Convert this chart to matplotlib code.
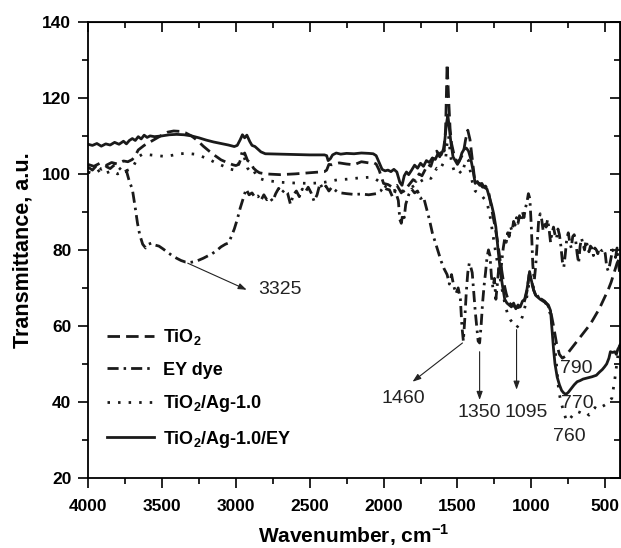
import matplotlib
matplotlib.use("Agg")
import matplotlib.pyplot as plt
from matplotlib.ticker import MultipleLocator

plt.rcParams['font.family'] = ['Liberation Sans', 'DejaVu Sans']
plt.rcParams['mathtext.fontset'] = 'custom'
plt.rcParams['mathtext.rm'] = 'Liberation Sans'
plt.rcParams['mathtext.bf'] = 'Liberation Sans:bold'

# ---------------- data ----------------
labels = [r'TiO$_\mathbf{2}$', 'EY dye', r'TiO$_\mathbf{2}$/Ag-1.0', r'TiO$_\mathbf{2}$/Ag-1.0/EY']

tio2_wn = [4000, 3960, 3920, 3880, 3840, 3800, 3760, 3730, 3700, 3680, 3660, 3620, 3580, 3540, 3500, 3460,
           3420, 3380, 3340, 3300, 3260, 3220, 3180, 3140, 3100, 3060, 3020, 3000, 2980, 2960, 2940, 2920,
           2900, 2880, 2860, 2840, 2800, 2700, 2600, 2500, 2400, 2385, 2370, 2350, 2300, 2250, 2200, 2150,
           2100, 2070, 2050, 2030, 2000, 1970, 1940, 1910, 1880, 1860, 1840, 1820, 1800, 1780, 1760, 1740,
           1720, 1700, 1680, 1660, 1640, 1620, 1600, 1590, 1580, 1570, 1560, 1550, 1540, 1520, 1500, 1480,
           1460, 1445, 1430, 1415, 1400, 1385, 1370, 1350, 1330, 1310, 1290, 1270, 1250, 1230, 1210, 1190,
           1170, 1150, 1130, 1110, 1090, 1070, 1050, 1030, 1015, 1000, 985, 970, 950, 930, 910, 890, 870,
           850, 830, 810, 790, 770, 750, 720, 690, 660, 630, 600, 570, 540, 510, 480, 460, 440, 420, 400]
tio2_t = [102.5, 102.0, 102.8, 102.2, 103.0, 102.6, 103.4, 103.2, 103.8, 104.8, 106.3, 107.5, 108.4, 109.3,
          110.2, 111.0, 111.3, 111.2, 110.8, 110.0, 108.8, 107.3, 106.0, 104.8, 103.7, 103.0, 102.4, 102.2,
          102.5, 104.5, 105.5, 103.5, 103.0, 101.5, 100.8, 100.3, 100.0, 99.8, 100.0, 100.3, 100.6, 101.0,
          102.5, 102.4, 102.9, 102.6, 102.4, 103.2, 102.9, 103.0, 102.6, 101.0, 97.5, 97.2, 96.5, 97.0, 95.0,
          96.2, 96.5, 97.5, 98.5, 98.0, 100.0, 99.5, 101.0, 102.5, 102.0, 104.5, 106.0, 104.5, 107.0, 106.0,
          112.0, 129.0, 120.0, 112.0, 108.0, 104.5, 103.0, 104.0, 105.5, 109.0, 111.5, 109.0, 104.0, 99.0,
          97.5, 97.5, 96.5, 96.8, 95.5, 91.0, 87.0, 82.5, 77.0, 72.0, 68.5, 66.0, 65.5, 65.0, 64.8, 65.2,
          66.0, 69.0, 73.5, 72.0, 69.5, 68.0, 67.5, 67.0, 66.5, 65.5, 64.0, 60.0, 55.5, 52.5, 51.5, 52.0,
          53.0, 54.5, 56.0, 57.5, 59.0, 60.5, 62.5, 64.5, 67.0, 69.5, 71.5, 74.0, 76.5, 78.0]

ey_wn = [4000, 3970, 3940, 3910, 3880, 3850, 3820, 3790, 3760, 3740, 3720, 3700, 3680, 3665, 3650, 3630,
         3610, 3590, 3570, 3550, 3520, 3490, 3460, 3430, 3400, 3370, 3340, 3310, 3280, 3250, 3220, 3190,
         3160, 3130, 3100, 3070, 3050, 3030, 3010, 2990, 2970, 2950, 2930, 2910, 2890, 2870, 2850, 2830,
         2810, 2790, 2770, 2750, 2730, 2710, 2690, 2670, 2650, 2630, 2610, 2590, 2570, 2550, 2530, 2510,
         2490, 2470, 2450, 2430, 2410, 2390, 2370, 2350, 2330, 2310, 2290, 2250, 2200, 2150, 2100, 2050,
         2020, 2000, 1980, 1960, 1940, 1920, 1900, 1890, 1880, 1870, 1860, 1850, 1830, 1810, 1790, 1770,
         1750, 1730, 1710, 1690, 1670, 1650, 1630, 1610, 1590, 1570, 1555, 1540, 1525, 1510, 1495, 1480,
         1470, 1460, 1450, 1440, 1430, 1420, 1410, 1400, 1390, 1380, 1370, 1360, 1350, 1340, 1330, 1320,
         1310, 1300, 1290, 1280, 1270, 1260, 1250, 1240, 1230, 1220, 1210, 1200, 1190, 1180, 1170, 1160,
         1150, 1140, 1130, 1120, 1110, 1100, 1090, 1080, 1070, 1060, 1050, 1040, 1030, 1020, 1010, 1000,
         990, 980, 970, 960, 950, 940, 930, 920, 910, 900, 890, 880, 870, 860, 850, 840, 830, 820, 810,
         800, 790, 780, 770, 760, 750, 740, 730, 720, 710, 700, 690, 680, 670, 660, 650, 640, 630, 620,
         610, 600, 590, 580, 570, 560, 550, 540, 530, 520, 510, 500, 490, 480, 470, 460, 450, 440, 430,
         420, 410, 400]
ey_t = [101.8, 101.0, 102.3, 101.2, 102.0, 101.4, 102.4, 101.6, 100.5, 100.8, 98.0, 96.0, 91.0, 87.0, 84.0,
        81.5, 80.5, 81.5, 81.8, 81.3, 81.0, 80.2, 79.3, 78.5, 77.8, 77.2, 76.8, 76.7, 76.9, 77.3, 77.8, 78.4,
        79.0, 79.8, 80.8, 81.5, 81.8, 83.5, 85.5, 88.0, 91.0, 93.5, 96.0, 94.5, 95.0, 93.8, 94.2, 93.0, 94.5,
        93.2, 93.8, 92.8, 94.8, 96.2, 95.0, 95.8, 95.0, 92.0, 94.5, 95.5, 94.0, 96.0, 95.2, 96.5, 95.0, 92.8,
        94.5, 97.5, 96.0, 96.8, 95.5, 96.5, 95.8, 95.2, 95.0, 94.8, 94.6, 94.7, 94.5, 94.8, 95.5, 96.5, 96.0,
        95.8, 94.0, 95.5, 93.0, 88.0, 87.0, 89.5, 88.5, 92.0, 94.5, 96.0, 95.0, 95.5, 93.5, 94.0, 91.0, 88.0,
        84.5, 82.0, 79.5, 77.0, 75.0, 73.5, 71.0, 73.5, 70.5, 68.5, 70.0, 67.0, 60.0, 56.0, 62.0, 69.0, 74.0,
        76.5, 75.5, 74.0, 69.0, 64.0, 60.0, 56.0, 55.5, 60.0, 66.0, 70.5, 74.0, 78.0, 80.0, 78.5, 73.0, 70.0,
        72.5, 67.0, 71.0, 75.5, 73.0, 77.0, 80.5, 83.0, 82.0, 84.5, 83.5, 86.0, 85.0, 87.5, 86.5, 88.5, 87.0,
        89.0, 87.5, 90.0, 88.5, 91.0, 92.5, 94.8, 93.5, 86.0, 76.0, 72.0, 76.0, 82.0, 88.0, 89.5, 88.0, 85.0,
        87.5, 86.0, 88.0, 85.5, 82.0, 84.5, 86.0, 84.0, 83.0, 85.5, 84.0, 81.0, 77.0, 75.5, 79.0, 83.0, 84.5,
        82.0, 80.5, 83.5, 84.0, 82.5, 79.0, 76.5, 81.0, 83.0, 81.5, 80.0, 82.5, 81.0, 79.5, 81.0, 80.5, 78.5,
        80.5, 80.0, 79.0, 80.5, 80.0, 79.8, 80.2, 79.0, 75.5, 74.5, 76.0, 78.0, 80.0, 79.0, 78.0, 80.5, 76.0,
        73.5]

ag_wn = [4000, 3960, 3920, 3880, 3840, 3800, 3760, 3730, 3700, 3680, 3660, 3630, 3580, 3530, 3480, 3430,
         3380, 3330, 3280, 3230, 3180, 3130, 3080, 3040, 3010, 2990, 2970, 2955, 2940, 2920, 2900, 2880,
         2860, 2840, 2800, 2700, 2600, 2500, 2450, 2400, 2350, 2300, 2250, 2200, 2150, 2100, 2060, 2030,
         2000, 1970, 1940, 1910, 1880, 1850, 1820, 1790, 1760, 1730, 1700, 1680, 1660, 1640, 1620, 1600,
         1580, 1570, 1560, 1550, 1540, 1520, 1505, 1490, 1470, 1455, 1440, 1425, 1410, 1395, 1380, 1360,
         1340, 1320, 1300, 1280, 1260, 1240, 1220, 1200, 1180, 1160, 1140, 1120, 1100, 1080, 1060, 1040,
         1020, 1010, 1000, 985, 970, 950, 930, 910, 890, 870, 850, 830, 815, 800, 785, 770, 760, 745, 730,
         710, 690, 670, 650, 630, 610, 590, 570, 550, 530, 510, 490, 470, 455, 445, 435, 425, 415, 405, 400]
ag_t = [100.5, 100.0, 101.0, 100.2, 100.8, 100.0, 100.6, 101.0, 101.5, 103.0, 104.5, 105.2, 105.0, 104.8,
        104.6, 104.9, 105.3, 105.4, 105.2, 104.6, 103.8, 102.8, 102.0, 101.3, 101.0, 101.5, 104.0, 106.0,
        104.0, 101.5, 100.5, 101.0, 99.5, 98.8, 98.3, 97.8, 97.6, 97.5, 97.6, 97.8, 98.2, 98.5, 98.6, 98.8,
        99.0, 99.1, 98.8, 98.0, 97.0, 96.3, 95.5, 95.8, 95.0, 95.8, 96.2, 97.0, 97.8, 98.5, 99.2, 98.8,
        100.0, 101.5, 101.0, 102.5, 104.0, 108.0, 110.0, 106.0, 103.0, 100.5, 100.3, 100.8, 100.0, 102.0,
        104.0, 103.5, 100.0, 97.0, 95.5, 95.0, 94.5, 93.5, 92.5, 89.0, 84.0, 79.0, 74.5, 70.0, 66.0, 63.0,
        61.5, 60.5, 59.5, 60.5, 62.5, 65.5, 70.0, 73.0, 72.5, 70.0, 68.5, 67.5, 67.0, 66.5, 65.0, 63.0, 58.0,
        50.0, 43.0, 40.0, 38.0, 36.0, 35.0, 35.2, 36.0, 37.0, 37.5, 37.2, 36.8, 37.2, 36.5, 37.5, 38.5, 38.0,
        38.6, 39.0, 39.5, 40.2, 41.0, 43.5, 46.0, 49.0, 52.0, 54.0, 55.0]

agey_wn = [4000, 3970, 3940, 3910, 3880, 3850, 3820, 3790, 3760, 3740, 3720, 3700, 3680, 3660, 3640, 3620,
           3600, 3580, 3550, 3500, 3450, 3400, 3350, 3300, 3250, 3200, 3150, 3100, 3050, 3010, 2990, 2970,
           2955, 2940, 2925, 2905, 2890, 2870, 2850, 2830, 2800, 2700, 2600, 2500, 2400, 2385, 2375, 2360,
           2345, 2320, 2290, 2250, 2200, 2150, 2100, 2070, 2050, 2030, 2010, 1990, 1970, 1950, 1930, 1910,
           1890, 1875, 1860, 1845, 1830, 1810, 1790, 1770, 1750, 1730, 1710, 1690, 1670, 1650, 1630, 1610,
           1595, 1585, 1575, 1565, 1555, 1545, 1530, 1515, 1500, 1485, 1470, 1455, 1440, 1425, 1410, 1395,
           1380, 1365, 1350, 1335, 1320, 1300, 1285, 1270, 1255, 1240, 1225, 1210, 1195, 1180, 1165, 1150,
           1135, 1120, 1105, 1090, 1075, 1060, 1045, 1030, 1020, 1012, 1000, 985, 970, 955, 940, 920, 900,
           885, 870, 860, 850, 840, 825, 810, 795, 780, 765, 750, 730, 710, 690, 670, 650, 620, 590, 560,
           540, 520, 505, 490, 475, 465, 450, 435, 425, 415, 405, 400]
agey_t = [107.8, 107.5, 108.0, 107.3, 107.9, 107.6, 108.3, 107.8, 108.6, 107.9, 108.8, 109.3, 108.8, 109.8,
          109.2, 110.2, 109.6, 110.0, 109.8, 110.0, 110.3, 110.4, 110.3, 110.0, 109.5, 108.9, 108.4, 108.0,
          107.6, 107.2, 107.5, 109.0, 110.3, 109.5, 110.2, 108.5, 107.5, 107.2, 106.5, 105.8, 105.3, 105.2,
          105.1, 105.0, 105.0, 104.8, 103.5, 104.0, 105.0, 105.5, 105.2, 105.4, 105.3, 105.5, 105.4, 105.3,
          104.8, 103.0, 101.2, 100.8, 101.0, 100.6, 101.2, 100.5, 97.8, 97.0, 99.5, 100.5, 99.8, 101.0,
          102.3, 101.5, 102.8, 102.0, 103.5, 103.0, 104.2, 103.8, 105.5, 105.0, 106.5, 109.0, 113.0, 115.5,
          112.0, 108.5, 104.5, 103.5, 102.5, 103.5, 105.5, 106.5, 106.8, 106.0, 104.0, 101.0, 97.5, 98.0,
          97.0, 97.5, 96.5, 96.0, 94.0, 92.0, 89.5, 86.0, 80.0, 74.5, 70.5, 67.0, 66.0, 65.5, 65.0, 66.0,
          64.5, 65.5, 65.0, 66.5, 67.0, 69.5, 72.0, 74.3, 72.0, 69.5, 68.0, 67.5, 67.0, 66.5, 66.0, 65.5,
          64.0, 59.0, 54.0, 50.0, 46.5, 44.5, 43.0, 42.3, 42.0, 42.5, 43.5, 44.5, 45.3, 45.6, 46.0, 46.3,
          46.6, 47.0, 47.8, 48.5, 49.2, 50.0, 51.5, 53.2, 53.0, 53.2, 52.5, 53.8, 54.5, 55.0]

peak_labels = ['3325', '1460', '1350', '1095', '790', '770', '760']

# ---------------- figure ----------------
fig = plt.figure(figsize=(6.21, 5.48), dpi=100)
ax = fig.add_axes([0.1417, 0.128, 0.8567, 0.832])

lw = 2.0
ax.plot(tio2_wn, tio2_t, color='#1a1a1a', lw=lw, linestyle=(0, (4.5, 2.2)), label=labels[0])
ax.plot(ey_wn, ey_t, color='#1a1a1a', lw=lw, linestyle=(0, (4, 1.8, 0.9, 1.8)), label=labels[1])
ax.plot(ag_wn, ag_t, color='#1a1a1a', lw=lw, linestyle=(0, (0.9, 2.9)), label=labels[2])
ax.plot(agey_wn, agey_t, color='#1a1a1a', lw=lw, linestyle='-', label=labels[3])

ax.set_xlim(4000, 400)
ax.set_ylim(20, 140)
ax.xaxis.set_major_locator(MultipleLocator(500))
ax.xaxis.set_minor_locator(MultipleLocator(250))
ax.yaxis.set_major_locator(MultipleLocator(20))
ax.yaxis.set_minor_locator(MultipleLocator(10))
ax.tick_params(which='major', direction='out', length=7, width=1.2, labelsize=12.5, pad=5)
ax.tick_params(axis='x', which='major', pad=8)
ax.tick_params(which='minor', direction='out', length=4, width=1.2)
for lab in ax.get_xticklabels() + ax.get_yticklabels():
    lab.set_fontweight('bold')
for sp in ax.spines.values():
    sp.set_linewidth(1.3)

secx = ax.secondary_xaxis('top')
secx.xaxis.set_major_locator(MultipleLocator(500))
secx.xaxis.set_minor_locator(MultipleLocator(250))
secx.tick_params(which='major', direction='in', length=7, width=1.2, labeltop=False)
secx.tick_params(which='minor', direction='in', length=4, width=1.2)
secy = ax.secondary_yaxis('right')
secy.yaxis.set_major_locator(MultipleLocator(20))
secy.yaxis.set_minor_locator(MultipleLocator(10))
secy.tick_params(which='major', direction='in', length=7, width=1.2, labelright=False)
secy.tick_params(which='minor', direction='in', length=4, width=1.2)

ax.set_xlabel(r'Wavenumber, cm$^{\mathbf{-1}}$', fontsize=15, fontweight='bold', labelpad=6)
ax.set_ylabel('Transmittance, a.u.', fontsize=15.5, fontweight='bold', labelpad=6)

leg = ax.legend(loc='center left', bbox_to_anchor=(0.035, 0.196), frameon=False,
                prop={'weight': 'bold', 'size': 13}, handlelength=2.6, handletextpad=0.5,
                labelspacing=0.8, borderaxespad=0, borderpad=0)

arrow = dict(arrowstyle='-|>,head_length=0.5,head_width=0.18', color='#222222', lw=0.8, shrinkA=0, shrinkB=0)
tfont = dict(fontsize=14, color='#222222')
ax.annotate('', xy=(2926, 69.5), xytext=(3325, 76.5), arrowprops=arrow)
ax.text(2700, 69.5, peak_labels[0], ha='center', va='center', **tfont)
ax.annotate('', xy=(1804, 45.3), xytext=(1466, 55.5), arrowprops=arrow)
ax.text(1865, 41, peak_labels[1], ha='center', va='center', **tfont)
ax.annotate('', xy=(1350, 40.5), xytext=(1350, 53.2), arrowprops=arrow)
ax.text(1351, 37.1, peak_labels[2], ha='center', va='center', **tfont)
ax.annotate('', xy=(1100, 43.2), xytext=(1100, 59.0), arrowprops=arrow)
ax.text(1034, 37.1, peak_labels[3], ha='center', va='center', **tfont)
ax.text(696, 48.7, peak_labels[4], ha='center', va='center', **tfont)
ax.text(689, 39.7, peak_labels[5], ha='center', va='center', **tfont)
ax.text(743, 30.8, peak_labels[6], ha='center', va='center', **tfont)

fig.savefig('out.png', dpi=100)
